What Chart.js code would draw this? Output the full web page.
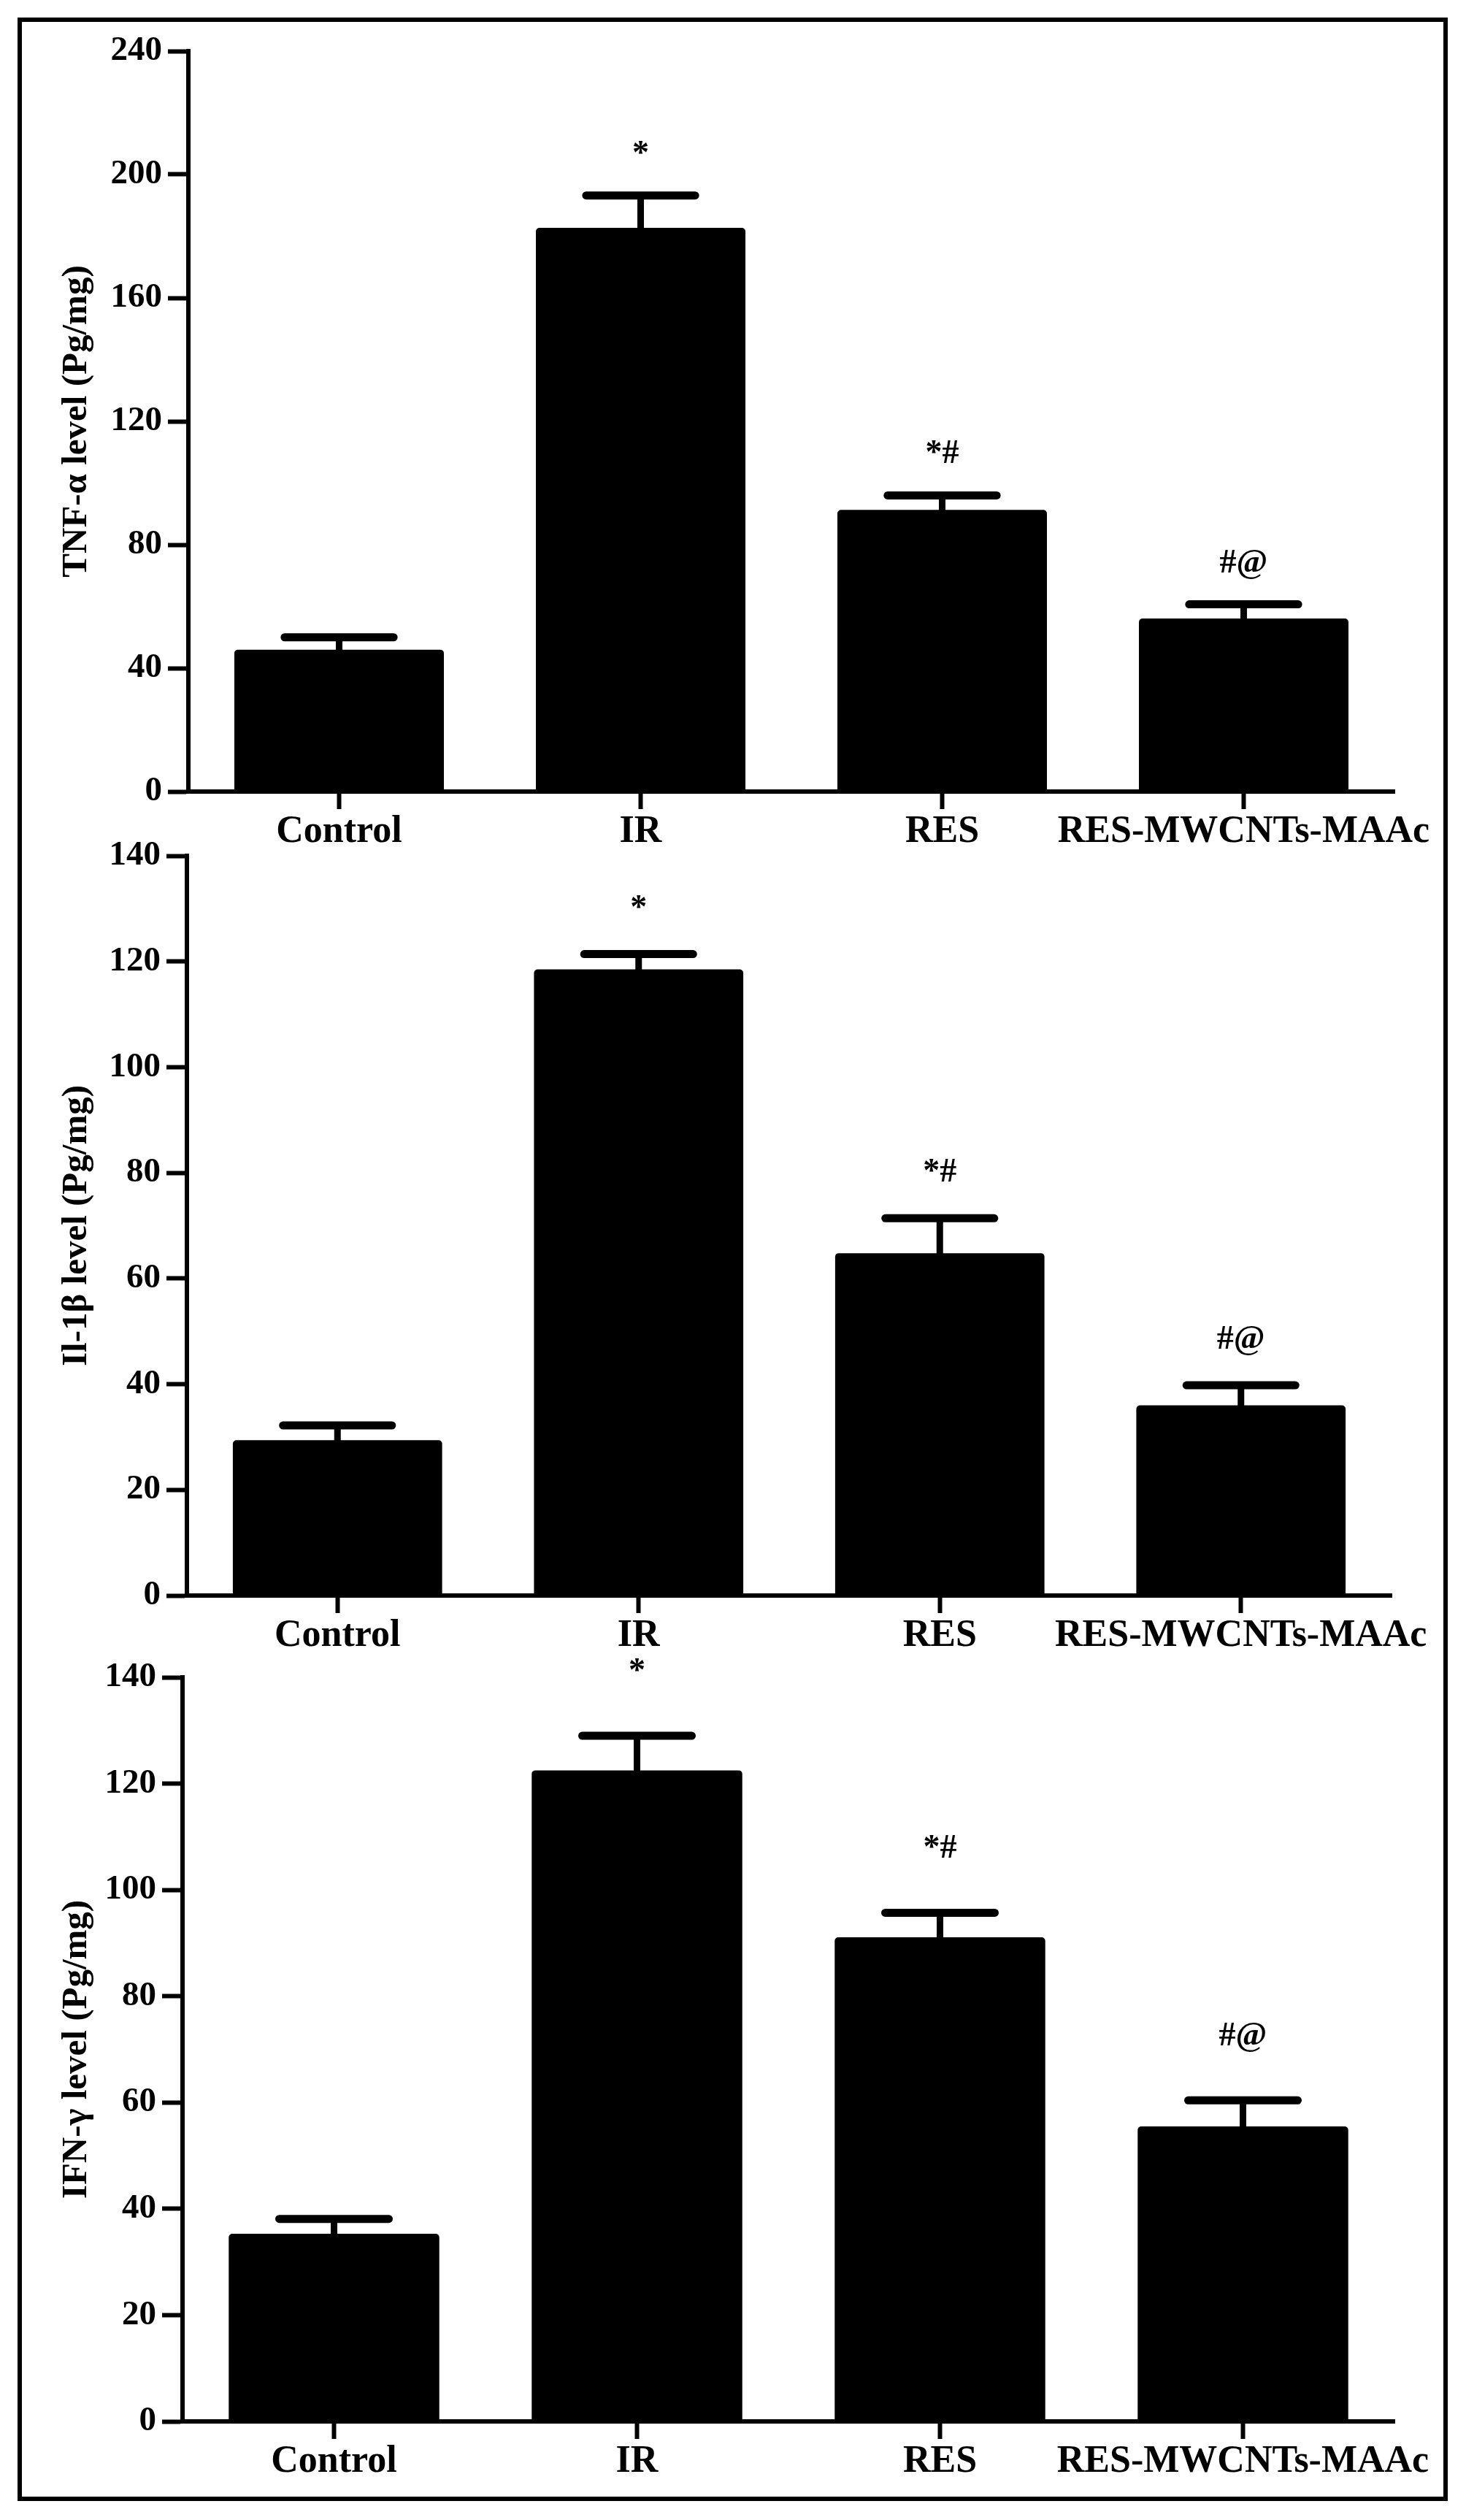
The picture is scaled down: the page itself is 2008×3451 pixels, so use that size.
<!DOCTYPE html>
<html><head><meta charset="utf-8">
<script src="https://cdn.jsdelivr.net/npm/chart.js@4.4.1/dist/chart.umd.min.js"></script>
<style>
html,body{margin:0;padding:0;background:#fff;}
#wrap{position:relative;width:2008px;height:3451px;overflow:hidden;background:#fff;}
#frame{position:absolute;left:24px;top:24px;width:1947px;height:3389px;border:6px solid #000;}
canvas{position:absolute;left:0;}
</style></head><body>
<div id="wrap">
<div id="frame"></div>
<canvas id="c1"></canvas>
<canvas id="c2"></canvas>
<canvas id="c3"></canvas>
</div>
<script>
// ---- data ----
const categories = ['Control', 'IR', 'RES', 'RES-MWCNTs-MAAc'];

const tnfMean = [46.0, 182.7, 91.3, 56.1];
const tnfSem  = [4.0, 10.5, 4.7, 4.6];
const tnfSig  = ['', '*', '*#', '#@'];
const tnfTicks = [0, 40, 80, 120, 160, 200, 240];

const il1bMean = [29.4, 118.5, 64.8, 36.0];
const il1bSem  = [2.8, 2.9, 6.6, 3.8];
const il1bSig  = ['', '*', '*#', '#@'];
const il1bTicks = [0, 20, 40, 60, 80, 100, 120, 140];

const ifngMean = [35.3, 122.5, 91.1, 55.5];
const ifngSem  = [2.8, 6.5, 4.6, 4.9];
const ifngSig  = ['', '*', '*#', '#@'];
const ifngTicks = [0, 20, 40, 60, 80, 100, 120, 140];

const titles = ['TNF-\u03b1 level (Pg/mg)', 'Il-1\u03b2 level (Pg/mg)', 'IFN-\u03b3 level (Pg/mg)'];

// ---- drawing ----
const SERIF = '"Liberation Serif", "Times New Roman", serif';
const PADL = 40;

function errPlugin(errs, sig, sigOffset) {
  return {
    id: 'errbars',
    afterDatasetsDraw(chart) {
      const ctx = chart.ctx;
      const ys = chart.scales.y;
      const meta = chart.getDatasetMeta(0);
      const vals = chart.data.datasets[0].data;
      ctx.save();
      ctx.strokeStyle = '#000';
      ctx.fillStyle = '#000';
      meta.data.forEach((bar, i) => {
        const v = vals[i];
        const yTop = ys.getPixelForValue(v);
        const yCap = ys.getPixelForValue(v + errs[i]);
        const x = bar.x;
        ctx.lineCap = 'butt';
        ctx.lineWidth = 9;
        ctx.beginPath(); ctx.moveTo(x, yTop + 4); ctx.lineTo(x, yCap); ctx.stroke();
        ctx.lineCap = 'round';
        ctx.lineWidth = 11;
        const hw = bar.width * 0.26;
        ctx.beginPath(); ctx.moveTo(x - hw, yCap); ctx.lineTo(x + hw, yCap); ctx.stroke();
        if (sig[i]) {
          ctx.font = 'bold 46px ' + SERIF;
          ctx.textAlign = 'center';
          ctx.textBaseline = 'alphabetic';
          ctx.fillText(sig[i], x, yCap - sigOffset);
        }
      });
      ctx.restore();
    }
  };
}

function makeChart(id, canvasTop, canvasH, area, means, errs, sig, ticks, title, sigOffset) {
  const cv = document.getElementById(id);
  cv.width = 2008; cv.height = canvasH;
  cv.style.width = '2008px'; cv.style.height = canvasH + 'px';
  cv.style.top = canvasTop + 'px';
  const relTop = area.top - canvasTop;
  const relBottom = area.bottom - canvasTop;
  const step = ticks[1] - ticks[0];
  return new Chart(cv, {
    type: 'bar',
    data: {
      labels: categories,
      datasets: [{
        data: means,
        backgroundColor: '#000',
        borderWidth: 0,
        borderRadius: 5,
        borderSkipped: 'start',
        categoryPercentage: 1.0,
        barPercentage: 0.695
      }]
    },
    options: {
      responsive: false,
      animation: false,
      devicePixelRatio: 1,
      layout: { padding: { left: PADL, right: 2008 - area.right, top: relTop, bottom: 0 } },
      plugins: { legend: { display: false }, tooltip: { enabled: false } },
      scales: {
        x: {
          offset: true,
          grid: { offset: false, drawOnChartArea: false, drawTicks: true, tickLength: 24, tickWidth: 6, tickColor: '#000' },
          border: { display: true, width: 6, color: '#000' },
          ticks: { font: { family: SERIF, weight: 'bold', size: 52 }, color: '#000', padding: 0, maxRotation: 0, autoSkip: false },
          afterFit(s) { s.height = canvasH - relBottom; }
        },
        y: {
          min: ticks[0], max: ticks[ticks.length - 1],
          ticks: { stepSize: step, font: { family: SERIF, weight: 'bold', size: 47 }, color: '#000', padding: 8 },
          grid: { drawOnChartArea: false, drawTicks: true, tickLength: 28, tickWidth: 6, tickColor: '#000' },
          border: { display: true, width: 6, color: '#000' },
          title: { display: true, text: title, color: '#000', font: { family: SERIF, weight: 'bold', size: 49 }, padding: { top: 36, bottom: 0 } },
          afterFit(s) { s.width = area.left - PADL; }
        }
      }
    },
    plugins: [errPlugin(errs, sig, sigOffset)]
  });
}

makeChart('c1', 0, 1180, { left: 258, right: 1910, top: 70, bottom: 1084 }, tnfMean, tnfSem, tnfSig, tnfTicks, titles[0], 44);
makeChart('c2', 1100, 1180, { left: 256, right: 1906, top: 1172, bottom: 2185 }, il1bMean, il1bSem, il1bSig, il1bTicks, titles[1], 50);
makeChart('c3', 2200, 1251, { left: 250, right: 1910, top: 2297, bottom: 3316 }, ifngMean, ifngSem, ifngSig, ifngTicks, titles[2], 75);
</script>
</body></html>
